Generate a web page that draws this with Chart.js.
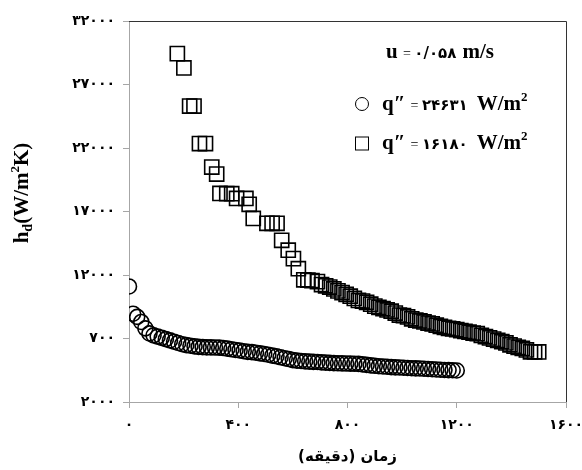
<!DOCTYPE html>
<html>
<head>
<meta charset="utf-8">
<script src="https://cdn.jsdelivr.net/npm/chart.js@4.4.0/dist/chart.umd.min.js"></script>
<style>
  html, body { margin: 0; padding: 0; background: #fff; }
  #wrap { width: 582px; height: 470px; }
</style>
</head>
<body>
<div id="wrap"><canvas id="chart" width="582" height="470"></canvas></div>
<script>
// axis ticks (Persian digits as printed in the figure)
const xTicks = [0, 400, 800, 1200, 1600];
const xTickLabels = ['۰', '۴۰۰', '۸۰۰', '۱۲۰۰', '۱۶۰۰'];
const yTicks = [2000, 7000, 12000, 17000, 22000, 27000, 32000];
const yTickLabels = ['۲۰۰۰', '۷۰۰', '۱۲۰۰۰', '۱۷۰۰۰', '۲۲۰۰۰', '۲۷۰۰۰', '۳۲۰۰۰'];

// q" = 24631 W/m2 (circles)
const circleTime = [0, 15, 30, 45, 60, 75, 90, 105, 120, 135, 150, 165, 180, 195, 210, 225, 240, 255,
  270, 285, 300, 315, 330, 345, 360, 375, 390, 405, 420, 435, 450, 465, 480, 495, 510, 525, 540,
  555, 570, 585, 600, 615, 630, 645, 660, 675, 690, 705, 720, 735, 750, 765, 780, 795, 810, 825,
  840, 855, 870, 885, 900, 915, 930, 945, 960, 975, 990, 1005, 1020, 1035, 1050, 1065, 1080,
  1095, 1110, 1125, 1140, 1155, 1170, 1185, 1200];
const circleH = [11100, 8950, 8700, 8300, 7800, 7400, 7250, 7150, 7050, 6950, 6850, 6750, 6650, 6550,
  6480, 6430, 6380, 6340, 6320, 6300, 6300, 6290, 6280, 6250, 6200, 6150, 6100, 6060, 6000, 5950,
  5930, 5880, 5830, 5780, 5720, 5650, 5600, 5520, 5450, 5380, 5300, 5260, 5230, 5200, 5180, 5160,
  5150, 5120, 5100, 5080, 5060, 5050, 5040, 5030, 5020, 5010, 5000, 4960, 4920, 4880, 4850, 4820,
  4800, 4780, 4750, 4730, 4720, 4700, 4680, 4660, 4650, 4640, 4620, 4600, 4580, 4560, 4540, 4520,
  4510, 4500, 4480];

// q" = 16180 W/m2 (squares)
const squareTime = [177, 201, 222, 238, 258, 280, 303, 321, 333, 358, 376, 394, 428, 440, 455, 505,
  524, 542, 559, 583, 602, 620, 640, 655, 670, 690, 705, 720, 735, 750, 765, 780, 795, 810, 825,
  840, 855, 870, 885, 900, 915, 930, 945, 960, 975, 990, 1005, 1020, 1035, 1050, 1065, 1080, 1095,
  1110, 1125, 1140, 1155, 1170, 1185, 1200, 1215, 1230, 1245, 1260, 1275, 1290, 1305, 1320, 1335,
  1350, 1365, 1380, 1395, 1410, 1425, 1440, 1455, 1470, 1485, 1500];
const squareH = [29430, 28300, 25300, 25300, 22350, 22350, 20500, 19950, 18420, 18400, 18400, 18030,
  18030, 17570, 16450, 16070, 16070, 16070, 14730, 13950, 13290, 12500, 11620, 11600, 11560, 11480,
  11250, 11150, 11050, 10900, 10750, 10620, 10480, 10330, 10150, 10000, 9950, 9850, 9700, 9550,
  9450, 9350, 9250, 9150, 9000, 8850, 8800, 8700, 8550, 8450, 8380, 8300, 8220, 8150, 8050, 7950,
  7880, 7800, 7750, 7700, 7620, 7560, 7500, 7430, 7380, 7250, 7150, 7050, 6950, 6850, 6750, 6650,
  6500, 6400, 6300, 6220, 6100, 5950, 5950, 5940];

const toPoints = (xs, ys) => xs.map((x, i) => ({ x: x, y: ys[i] }));

const tickFont = { family: 'DejaVu Sans', weight: 'bold', size: 14 };
const axisGray = '#a6a6a6';
const serif = 'Liberation Serif, DejaVu Serif, serif';

// draw a row of text pieces with different fonts / offsets
function drawRuns(ctx, x, y, runs) {
    runs.forEach(r => {
        ctx.font = r.font;
        ctx.fillText(r.text, x, y + (r.dy || 0));
        x += ctx.measureText(r.text).width + (r.gap || 0);
    });
}

const annotations = {
    id: 'annotations',
    afterDraw(chart) {
        const ctx = chart.ctx;
        const a = chart.chartArea;
        ctx.save();

        // top and right frame
        ctx.strokeStyle = '#333';
        ctx.lineWidth = 1;
        ctx.beginPath();
        ctx.moveTo(a.left, a.top + 0.5);
        ctx.lineTo(a.right + 0.5, a.top + 0.5);
        ctx.lineTo(a.right + 0.5, a.bottom);
        ctx.stroke();

        ctx.fillStyle = '#000';
        ctx.textBaseline = 'alphabetic';
        ctx.textAlign = 'left';

        const bold = s => 'bold ' + s + 'px ' + serif;
        const digits = s => 'bold ' + s + 'px DejaVu Sans';
        const plain = s => s + 'px ' + serif;

        // velocity note
        drawRuns(ctx, 386, 58, [
            { text: 'u ', font: bold(21) },
            { text: '= ', font: plain(14) },
            { text: '۰/۰۵۸', font: digits(15), gap: 6 },
            { text: 'm/s', font: bold(21) }
        ]);

        // legend entries
        ctx.strokeStyle = '#000';
        ctx.lineWidth = 1;
        ctx.beginPath();
        ctx.arc(362, 104, 6.5, 0, Math.PI * 2);
        ctx.stroke();
        ctx.strokeRect(355.5, 137, 13, 13);

        const entry = (y, value) => drawRuns(ctx, 382, y, [
            { text: 'q″ ', font: bold(21) },
            { text: '= ', font: plain(14) },
            { text: value, font: digits(15), gap: 9 },
            { text: 'W/m', font: bold(21) },
            { text: '2', font: bold(13), dy: -9 }
        ]);
        entry(110, '۲۴۶۳۱');
        entry(149, '۱۶۱۸۰');

        // y axis title, rotated
        ctx.save();
        ctx.translate(28, 193);
        ctx.rotate(-Math.PI / 2);
        const yRuns = [
            { text: 'h', font: bold(21) },
            { text: 'd', font: bold(14), dy: 4 },
            { text: '(W/m', font: bold(21) },
            { text: '2', font: bold(13), dy: -9 },
            { text: 'K)', font: bold(21) }
        ];
        let w = 0;
        yRuns.forEach(r => { ctx.font = r.font; w += ctx.measureText(r.text).width; });
        drawRuns(ctx, -w / 2, 0, yRuns);
        ctx.restore();

        ctx.restore();
    }
};

new Chart(document.getElementById('chart'), {
    type: 'scatter',
    data: {
        datasets: [
            {
                label: 'q″ = ۲۴۶۳۱ W/m²',
                data: toPoints(circleTime, circleH),
                pointStyle: 'circle',
                pointRadius: 7.5,
                borderColor: '#000',
                borderWidth: 1.6,
                backgroundColor: 'rgba(0,0,0,0)'
            },
            {
                label: 'q″ = ۱۶۱۸۰ W/m²',
                data: toPoints(squareTime, squareH),
                pointStyle: 'rect',
                pointRadius: 10,
                borderColor: '#000',
                borderWidth: 1.6,
                backgroundColor: 'rgba(0,0,0,0)'
            }
        ]
    },
    options: {
        responsive: false,
        animation: false,
        devicePixelRatio: 1,
        layout: { padding: { left: 0, right: 16, top: 21, bottom: 0 } },
        plugins: {
            legend: { display: false },
            tooltip: { enabled: false }
        },
        scales: {
            x: {
                type: 'linear',
                min: 0,
                max: 1600,
                afterBuildTicks: axis => { axis.ticks = xTicks.map(v => ({ value: v })); },
                afterFit: axis => {
                    axis.height = 68;
                    axis.paddingLeft = 0;
                    axis.paddingRight = 0;
                },
                ticks: {
                    callback: v => xTickLabels[xTicks.indexOf(v)],
                    font: tickFont,
                    color: '#000',
                    padding: 9,
                    maxRotation: 0
                },
                grid: { drawOnChartArea: false, drawTicks: true, tickLength: 6, color: axisGray },
                border: { color: axisGray, width: 1 },
                title: {
                    display: true,
                    text: 'زمان (دقیقه)',
                    font: { family: 'DejaVu Sans', weight: 'bold', size: 15 },
                    color: '#000',
                    padding: { top: 3 }
                }
            },
            y: {
                type: 'linear',
                min: 2000,
                max: 32000,
                afterBuildTicks: axis => { axis.ticks = yTicks.map(v => ({ value: v })); },
                afterFit: axis => {
                    axis.width = 129;
                    axis.paddingTop = 0;
                    axis.paddingBottom = 0;
                },
                ticks: {
                    callback: v => yTickLabels[yTicks.indexOf(v)],
                    font: tickFont,
                    color: '#000',
                    padding: 8
                },
                grid: { drawOnChartArea: false, drawTicks: true, tickLength: 6, color: axisGray },
                border: { color: axisGray, width: 1 }
            }
        }
    },
    plugins: [annotations]
});
</script>
</body>
</html>
